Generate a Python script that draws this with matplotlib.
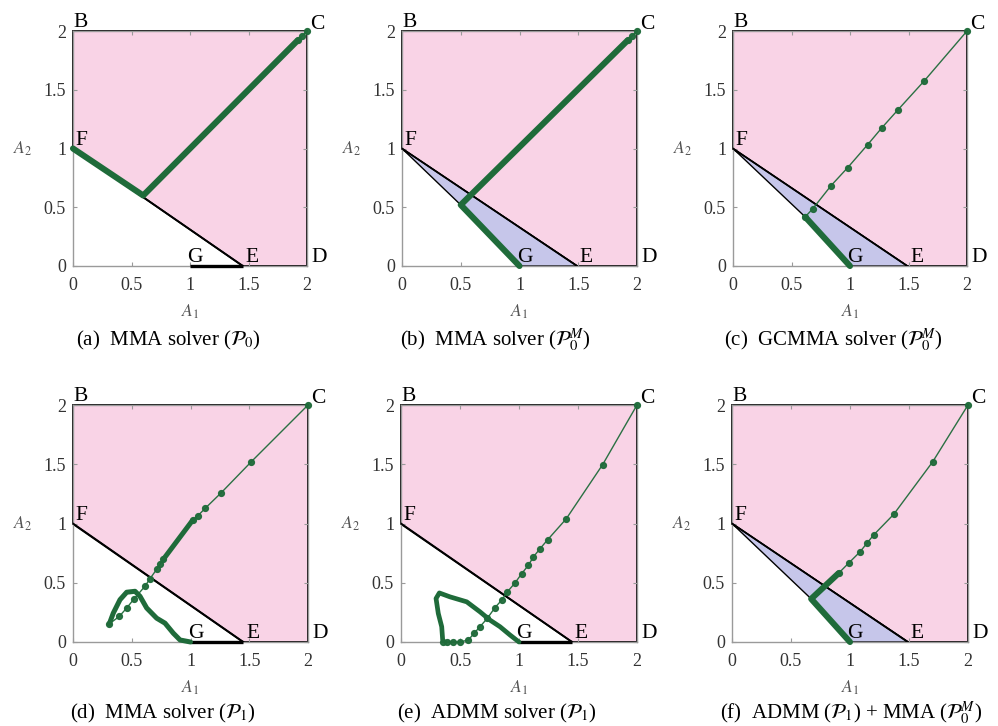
import matplotlib
matplotlib.use('Agg')
import matplotlib.pyplot as plt
from matplotlib.patches import Polygon

# Colours
pink = '#f9d3e6'
blue = '#c6c6ea'
green = '#1f6b3a'
grey = '#9a9a9a'

plt.rcParams['font.family'] = ['Liberation Serif', 'DejaVu Serif']
plt.rcParams['mathtext.fontset'] = 'stix'

# Corner points of the design region
B = (0, 2)
C = (2, 2)
D = (2, 0)
F = (0, 1)
G = (1, 0)
# E sits a bit differently in the two kinds of panel
E_plain = 1.45
E_mod = 1.49

ticks = [0, 0.5, 1, 1.5, 2]
tick_labels = ['0', '0.5', '1', '1.5', '2']

captions = [r'(a)  MMA solver ($\mathcal{P}_0$)',
            r'(b)  MMA solver ($\mathcal{P}_0^M$)',
            r'(c)  GCMMA solver ($\mathcal{P}_0^M$)',
            r'(d)  MMA solver ($\mathcal{P}_1$)',
            r'(e)  ADMM solver ($\mathcal{P}_1$)',
            r'(f)  ADMM ($\mathcal{P}_1$) + MMA ($\mathcal{P}_0^M$)']

# (a) MMA on P0
a_dense_x = [0, 0.6, 1.92]
a_dense_y = [1, 0.6, 1.92]
a_path_x = [1.92, 1.96, 2.0]
a_path_y = [1.92, 1.96, 2.0]

# (b) MMA on P0^M
b_dense_x = [1.0, 0.5, 1.92]
b_dense_y = [0.0, 0.52, 1.92]
b_path_x = [1.92, 1.96, 2.0]
b_path_y = [1.92, 1.96, 2.0]
b_corner = (0.5, 0.52)

# (c) GCMMA on P0^M
c_dense_x = [1.0, 0.617]
c_dense_y = [0.0, 0.418]
c_path_x = [0.617, 0.683, 0.839, 0.981, 1.152, 1.272, 1.408, 1.636, 2.0]
c_path_y = [0.418, 0.489, 0.685, 0.838, 1.034, 1.176, 1.327, 1.577, 2.0]
c_corner = (0.617, 0.418)

# (d) MMA on P1
d_loop_x = [1.0, 0.911, 0.854, 0.783, 0.712, 0.627, 0.57, 0.528, 0.457, 0.40, 0.343, 0.309]
d_loop_y = [0.0, 0.017, 0.074, 0.159, 0.201, 0.287, 0.386, 0.428, 0.42, 0.357, 0.244, 0.153]
d_path_x = [0.309, 0.394, 0.457, 0.519, 0.613, 0.655, 0.712, 0.74, 0.769,
            1.02, 1.064, 1.126, 1.262, 1.518, 2.0]
d_path_y = [0.153, 0.216, 0.287, 0.363, 0.471, 0.534, 0.613, 0.655, 0.698,
            1.03, 1.067, 1.129, 1.26, 1.522, 2.0]
d_dense_x = [0.769, 1.02]
d_dense_y = [0.698, 1.03]

# (e) ADMM on P1
e_loop_x = [1.0, 0.924, 0.839, 0.754, 0.669, 0.557, 0.415, 0.325, 0.297, 0.316, 0.345, 0.353]
e_loop_y = [0.0, 0.059, 0.129, 0.185, 0.255, 0.339, 0.381, 0.414, 0.367, 0.241, 0.129, 0.02]
e_path_x = [0.353, 0.387, 0.443, 0.5, 0.571, 0.619, 0.669, 0.731, 0.797, 0.853, 0.901,
            0.966, 1.023, 1.079, 1.121, 1.178, 1.242, 1.40, 1.709, 2.0]
e_path_y = [0.0, 0.0, 0.0, 0.0, 0.017, 0.073, 0.129, 0.199, 0.291, 0.353, 0.423,
            0.498, 0.577, 0.647, 0.717, 0.787, 0.862, 1.039, 1.497, 2.0]

# (f) ADMM on P1 then MMA on P0^M
f_dense_x = [1.0, 0.671, 0.903]
f_dense_y = [0.0, 0.364, 0.58]
f_path_x = [0.903, 0.99, 1.086, 1.142, 1.202, 1.371, 1.701, 2.0]
f_path_y = [0.58, 0.667, 0.762, 0.832, 0.905, 1.078, 1.521, 2.0]
f_corner = (0.671, 0.364)

W, H = 998, 726
fig = plt.figure(figsize=(W / 100, H / 100), dpi=100)

# axes boxes in pixels: left, top, right, bottom
boxes = [(73, 31, 307, 266), (402, 31, 637, 266), (733, 31, 967, 266),
         (73, 405, 308, 642), (401, 405, 637, 642), (732, 405, 968, 642)]
cap_x = [168, 495, 833, 163, 497, 851]
cap_y = [340, 340, 340, 713, 713, 713]


def make_axes(box):
    l, t, r, b = box
    ax = fig.add_axes([l / W, 1 - b / H, (r - l) / W, (b - t) / H])
    ax.set_xlim(0, 2)
    ax.set_ylim(0, 2)
    ax.set_xticks(ticks)
    ax.set_xticklabels(tick_labels)
    ax.set_yticks(ticks)
    ax.set_yticklabels(tick_labels)
    ax.tick_params(direction='in', length=3, width=0.8, color=grey,
                   labelsize=13, labelcolor='#333333', top=True, right=True)
    ax.tick_params(axis='x', pad=8)
    ax.tick_params(axis='y', pad=5)
    for s in ax.spines.values():
        s.set_color(grey)
        s.set_linewidth(1.0)
    ax.set_xlabel(r'$A_1$', fontsize=12.5, color='#555555')
    ax.set_ylabel(r'$A_2$', fontsize=12.5, color='#555555', rotation=0)
    yoff = 46 / (b - t)
    ax.xaxis.set_label_coords(0.5, -yoff)
    ax.xaxis.label.set_va('center')
    ax.yaxis.set_label_coords(-50 / (r - l), 0.5)
    ax.yaxis.label.set_va('center')
    ax.yaxis.label.set_ha('center')
    return ax


def region(ax, xE, corner=None):
    pk = Polygon([F, B, C, D, (xE, 0)], closed=True, facecolor=pink,
                 edgecolor='black', linewidth=1.3, zorder=1, clip_on=False)
    ax.add_patch(pk)
    if corner is not None:
        bl = Polygon([F, corner, G, (xE, 0)], closed=True, facecolor=blue,
                     edgecolor='black', linewidth=1.0, zorder=2, clip_on=False)
        ax.add_patch(bl)
    else:
        ax.plot([G[0], xE], [0, 0], color='black', lw=2.4, zorder=3,
                clip_on=False, solid_capstyle='butt')
    ax.plot([F[0], xE], [F[1], 0], color='black', lw=1.3, zorder=3)
    lab = dict(fontsize=15.5, textcoords='offset points', va='bottom',
               ha='left', zorder=6, annotation_clip=False)
    ax.annotate('B', B, xytext=(0, -1), **lab)
    ax.annotate('C', C, xytext=(2, -2), **lab)
    ax.annotate('D', D, xytext=(3, -1), **lab)
    ax.annotate('E', (xE, 0), xytext=(2, -1), **lab)
    ax.annotate('F', F, xytext=(2, -1), **lab)
    ax.annotate('G', G, xytext=(-2, -1), **lab)


def dense(ax, xs, ys, lw=4.4):
    ax.plot(xs, ys, color=green, lw=lw, zorder=5, clip_on=False,
            solid_joinstyle='round', solid_capstyle='round')


def path(ax, xs, ys):
    ax.plot(xs, ys, color=green, lw=1.0, marker='o', ms=4.2, zorder=5,
            clip_on=False, alpha=0.95)


axs = [make_axes(bx) for bx in boxes]

region(axs[0], E_plain)
dense(axs[0], a_dense_x, a_dense_y)
path(axs[0], a_path_x, a_path_y)

region(axs[1], E_mod, b_corner)
dense(axs[1], b_dense_x, b_dense_y)
path(axs[1], b_path_x, b_path_y)

region(axs[2], E_mod, c_corner)
dense(axs[2], c_dense_x, c_dense_y)
path(axs[2], c_path_x, c_path_y)

region(axs[3], E_plain)
path(axs[3], d_path_x, d_path_y)
dense(axs[3], d_loop_x, d_loop_y, lw=3.6)
dense(axs[3], d_dense_x, d_dense_y, lw=3.6)

region(axs[4], E_plain)
path(axs[4], e_path_x, e_path_y)
dense(axs[4], e_loop_x, e_loop_y, lw=3.4)

region(axs[5], E_mod, f_corner)
dense(axs[5], f_dense_x, f_dense_y)
path(axs[5], f_path_x, f_path_y)

for cx, cy, txt in zip(cap_x, cap_y, captions):
    fig.text(cx / W, 1 - cy / H, txt, ha='center', va='center', fontsize=15)

fig.savefig('out.png', dpi=100)
